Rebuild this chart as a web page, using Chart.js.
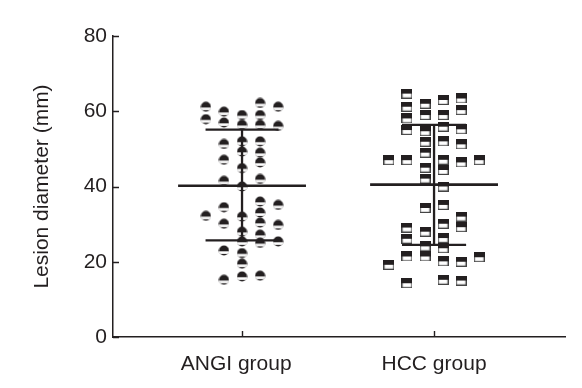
<!DOCTYPE html>
<html>
<head>
<meta charset="utf-8">
<script src="https://cdn.jsdelivr.net/npm/chart.js@4.4.1/dist/chart.umd.min.js"></script>
<style>
  html, body { margin: 0; padding: 0; background: #fff; }
  #wrap { width: 582px; height: 388px; }
</style>
</head>
<body>
<div id="wrap"><canvas id="dotPlot"></canvas></div>
<script>
// categories and values
const groups = ["ANGI group", "HCC group"];
const yTicks = [0, 20, 40, 60, 80];

// lesion diameters (mm), one small array per column of the dot plot
const angiColumns = [
  [61.2, 57.9, 32.2],
  [59.9, 57.0, 51.3, 47.1, 41.5, 34.5, 30.1, 23.0, 15.2],
  [59.0, 56.4, 52.0, 49.3, 44.9, 40.0, 32.0, 28.0, 25.4, 22.3, 19.5, 16.1],
  [62.2, 59.0, 56.4, 52.0, 49.0, 46.4, 42.0, 36.0, 33.1, 30.4, 27.2, 25.0, 16.3],
  [61.2, 56.1, 35.1, 29.8, 25.4]
];
const hccColumns = [
  [47.0, 19.2],
  [64.7, 61.2, 58.1, 55.0, 47.0, 29.1, 26.1, 21.4, 14.3],
  [62.0, 59.0, 54.7, 51.9, 49.0, 45.0, 42.1, 34.3, 28.0, 24.1, 21.4],
  [63.0, 59.0, 55.9, 52.0, 47.1, 44.4, 40.0, 35.1, 30.1, 26.3, 23.6, 20.1, 15.2],
  [63.4, 60.3, 55.2, 51.2, 46.4, 32.0, 29.2, 20.0, 15.0],
  [47.0, 21.2]
];

// mean and mean +/- SD
const means = [40.2, 40.5];
const sdUpper = [55.1, 56.4];
const sdLower = [25.7, 24.5];

const ink = "#231f20";
const font = { family: "Liberation Sans, Arial, sans-serif", size: 21 };
const colStep = 0.094;      // column spacing in x units
const meanHalf = 0.333;
const sdHalf = [0.19, 0.167];

// marker images
function circleMarker() {
  const c = document.createElement("canvas");
  c.width = 11; c.height = 11;
  const g = c.getContext("2d");
  g.beginPath();
  g.arc(5.5, 5.5, 5, 0, Math.PI * 2);
  g.fillStyle = ink;
  g.fill();
  g.save();
  g.clip();
  g.fillStyle = "#fff";
  g.fillRect(0, 6.3, 11, 2.6);
  g.restore();
  return c;
}
function squareMarker() {
  const c = document.createElement("canvas");
  c.width = 11; c.height = 10;
  const g = c.getContext("2d");
  g.fillStyle = "#fff";
  g.fillRect(0.5, 0.5, 10, 9);
  g.strokeStyle = "#444";
  g.lineWidth = 1.2;
  g.strokeRect(0.6, 0.6, 9.8, 8.8);
  g.fillStyle = ink;
  g.fillRect(0, 0, 11, 5);
  return c;
}

function columnPoints(columns, center) {
  const pts = [];
  const mid = (columns.length - 1) / 2;
  columns.forEach((vals, i) => {
    vals.forEach(v => pts.push({ x: center + (i - mid) * colStep, y: v }));
  });
  return pts;
}

function segment(x0, x1, y0, y1, width) {
  return {
    type: "line",
    data: [{ x: x0, y: y0 }, { x: x1, y: y1 }],
    borderColor: ink,
    borderWidth: width,
    pointRadius: 0,
    showLine: true,
    order: 0
  };
}

const datasets = [
  {
    data: columnPoints(angiColumns, 1),
    pointStyle: circleMarker(),
    order: 1
  },
  {
    data: columnPoints(hccColumns, 2),
    pointStyle: squareMarker(),
    order: 1
  }
];
groups.forEach((g, i) => {
  const cx = i + 1;
  datasets.push(segment(cx - meanHalf, cx + meanHalf, means[i], means[i], 2.6));
  datasets.push(segment(cx - sdHalf[i], cx + sdHalf[i], sdUpper[i], sdUpper[i], 2.3));
  datasets.push(segment(cx - sdHalf[i], cx + sdHalf[i], sdLower[i], sdLower[i], 2.3));
  datasets.push(segment(cx, cx, sdLower[i], sdUpper[i], 2.3));
});

// tick marks pointing into the plot
const innerTicks = {
  id: "innerTicks",
  afterDatasetsDraw(chart) {
    const { ctx, scales: { x, y } } = chart;
    ctx.save();
    ctx.strokeStyle = ink;
    ctx.lineWidth = 1.4;
    ctx.beginPath();
    yTicks.forEach(v => {
      const py = Math.round(y.getPixelForValue(v)) + 0.5;
      ctx.moveTo(x.left, py);
      ctx.lineTo(x.left + 6, py);
    });
    groups.forEach((g, i) => {
      const px = Math.round(x.getPixelForValue(i + 1)) + 0.5;
      ctx.moveTo(px, y.bottom);
      ctx.lineTo(px, y.bottom - 6);
    });
    ctx.stroke();
    ctx.restore();
  }
};

new Chart(document.getElementById("dotPlot"), {
  type: "scatter",
  data: { datasets },
  options: {
    responsive: true,
    maintainAspectRatio: false,
    animation: false,
    layout: { padding: { top: 36, right: 17, left: 0, bottom: 0 } },
    elements: { point: { radius: 5, hoverRadius: 5 } },
    plugins: { legend: { display: false }, tooltip: { enabled: false } },
    scales: {
      x: {
        type: "linear",
        min: 0.328,
        max: 2.682,
        grid: { display: false, drawTicks: false },
        border: { color: ink, width: 1.5 },
        afterBuildTicks: s => { s.ticks = groups.map((g, i) => ({ value: i + 1 })); },
        afterFit: s => { s.height = 51; },
        ticks: {
          autoSkip: false,
          maxRotation: 0,
          padding: 15,
          color: ink,
          font,
          // first label sits a little left of its tick in the original
          callback: v => v === 1 ? groups[0] + "  " : groups[v - 1]
        }
      },
      y: {
        min: 0,
        max: 80,
        grid: { display: false, drawTicks: false },
        border: { color: ink, width: 1.5 },
        afterBuildTicks: s => { s.ticks = yTicks.map(v => ({ value: v })); },
        afterFit: s => { s.width = 113; },
        ticks: { padding: 6, color: ink, font },
        title: {
          display: true,
          text: "Lesion diameter (mm)",
          color: ink,
          padding: { top: 30, bottom: 0 },
          font
        }
      }
    }
  },
  plugins: [innerTicks]
});
</script>
</body>
</html>
